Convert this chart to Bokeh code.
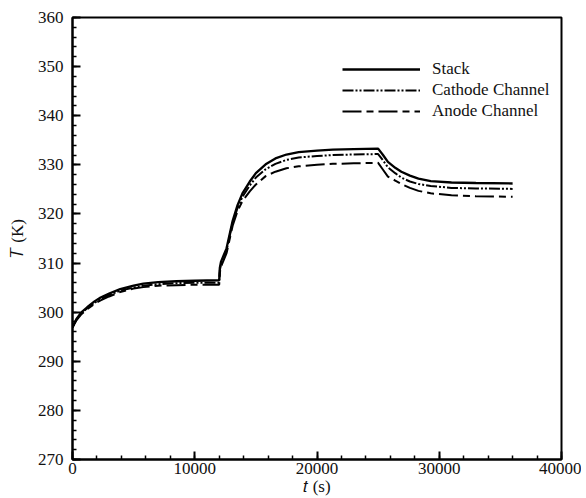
from bokeh.plotting import figure
from bokeh.models import Range1d, SingleIntervalTicker, Legend, LegendItem, ColumnDataSource
from bokeh.embed import file_html
from bokeh.resources import INLINE

# ---- data ----
t = [0, 300, 700, 1200, 1800, 2300, 3000, 3900, 5000, 5800, 7000, 8500, 10000, 11000,
     12000, 12050, 12150, 12600, 13100, 13500, 13900, 14500, 15000, 15800, 16600, 17500,
     18500, 20000, 21300, 23000, 25000, 25400, 25800, 26400, 26900, 27600, 28300, 29300,
     31000, 33000, 36000]
stack = [296.9, 298.5, 299.9, 301.0, 302.2, 303.0, 303.8, 304.7, 305.4, 305.8, 306.1, 306.3,
         306.4, 306.45, 306.5, 309.0, 310.3, 313.0, 318.6, 321.8, 324.2, 326.6, 328.3, 330.1,
         331.3, 332.1, 332.6, 332.9, 333.1, 333.2, 333.3, 332.0, 330.6, 329.4, 328.6, 327.8,
         327.2, 326.7, 326.4, 326.3, 326.2]
cathode = [296.9, 298.4, 299.7, 300.8, 301.9, 302.7, 303.5, 304.4, 305.0, 305.4, 305.7, 305.9,
           306.0, 306.0, 306.0, 308.5, 309.8, 312.6, 318.2, 321.2, 323.5, 325.8, 327.4, 329.1,
           330.2, 331.0, 331.5, 331.8, 332.0, 332.1, 332.2, 330.9, 329.5, 328.3, 327.4, 326.6,
           326.1, 325.7, 325.3, 325.2, 325.1]
anode = [296.9, 298.3, 299.5, 300.6, 301.7, 302.4, 303.2, 304.1, 304.8, 305.1, 305.4, 305.5,
         305.6, 305.6, 305.6, 308.0, 309.3, 312.0, 317.6, 320.6, 322.6, 324.6, 326.0, 327.7,
         328.6, 329.3, 329.7, 330.0, 330.2, 330.3, 330.4, 329.0, 327.6, 326.8, 326.1, 325.3,
         324.7, 324.2, 323.8, 323.6, 323.5]
series_names = ["Stack", "Cathode Channel", "Anode Channel"]
x_title = "\U0001D461 (s)"   # italic t
y_title = "\U0001D447 (K)"   # italic T

FONT = "Liberation Serif"

p = figure(width=581, height=497, output_backend="svg", toolbar_location=None,
           x_range=Range1d(0, 40000), y_range=Range1d(270, 360),
           min_border_left=72, min_border_right=20, min_border_top=17, min_border_bottom=38,
           frame_width=489, frame_height=442)
p.background_fill_color = "white"
p.border_fill_color = "white"
p.outline_line_color = "black"
p.outline_line_width = 2
p.xgrid.visible = False
p.ygrid.visible = False

src = ColumnDataSource(dict(t=t, stack=stack, cathode=cathode, anode=anode))
r1 = p.line("t", "stack", source=src, line_color="black", line_width=2.3)
r2 = p.line("t", "cathode", source=src, line_color="black", line_width=2.0,
            line_dash="11 2 2 2 2 2")
r3 = p.line("t", "anode", source=src, line_color="black", line_width=2.0,
            line_dash="19 5 7 5")

p.xaxis.ticker = SingleIntervalTicker(interval=10000, num_minor_ticks=5)
p.yaxis.ticker = SingleIntervalTicker(interval=10, num_minor_ticks=5)
for ax in (p.xaxis[0], p.yaxis[0]):
    ax.axis_line_width = 2
    ax.axis_line_color = "black"
    ax.major_tick_in = 8
    ax.major_tick_out = 0
    ax.minor_tick_in = 4
    ax.minor_tick_out = 0
    ax.major_tick_line_width = 2
    ax.minor_tick_line_width = 1.5
    ax.major_tick_line_color = "black"
    ax.minor_tick_line_color = "black"
    ax.major_label_text_font = FONT
    ax.major_label_text_font_size = "17px"
    ax.major_label_text_color = "#111111"
    ax.axis_label_text_font = FONT
    ax.axis_label_text_font_size = "17px"
    ax.axis_label_text_font_style = "normal"
    ax.axis_label_text_color = "#111111"
p.xaxis.major_label_standoff = 3
p.yaxis.major_label_standoff = 9
p.xaxis.axis_label = x_title
p.yaxis.axis_label = y_title
p.xaxis.axis_label_standoff = 0
p.yaxis.axis_label_standoff = 8

legend = Legend(items=[LegendItem(label=series_names[0], renderers=[r1]),
                       LegendItem(label=series_names[1], renderers=[r2]),
                       LegendItem(label=series_names[2], renderers=[r3])],
                location=(270, 338))
legend.glyph_width = 78
legend.glyph_height = 18
legend.label_height = 18
legend.spacing = 1
legend.padding = 0
legend.margin = 0
legend.label_standoff = 12
legend.label_text_font = FONT
legend.label_text_font_size = "17px"
legend.label_text_color = "#111111"
legend.border_line_color = None
legend.background_fill_alpha = 0
p.add_layout(legend)

open("out.html", "w").write(file_html(p, INLINE))
